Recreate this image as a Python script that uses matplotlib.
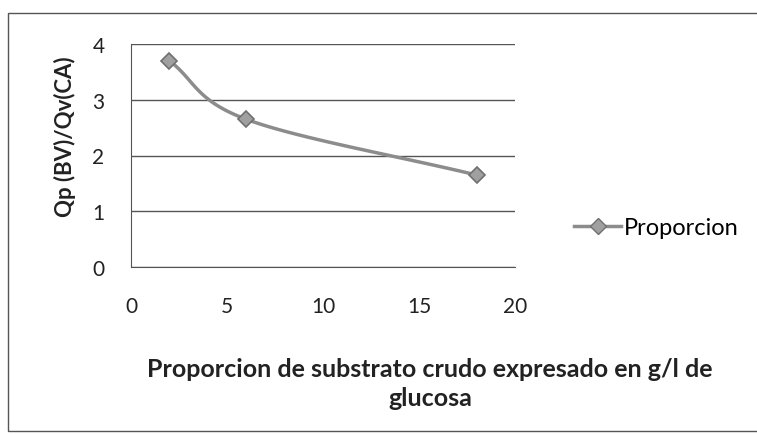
import numpy as np
import matplotlib
matplotlib.use("Agg")
import matplotlib.pyplot as plt
from matplotlib.patches import Rectangle
from matplotlib.lines import Line2D

x_vals = [2, 6, 18]
y_vals = [3.7, 2.65, 1.65]
x_ticks = [0, 5, 10, 15, 20]
y_ticks = [0, 1, 2, 3, 4]
series_name = "Proporcion"
x_label = "Proporcion de substrato crudo expresado en g/l de\nglucosa"
y_label = "Qp (BV)/Qv(CA)"

plt.rcParams['font.family'] = ['Lato', 'DejaVu Sans']

def smooth(xs, ys, n=60):
    # Catmull-Rom style smoothing (Excel "smoothed line" look)
    P = np.column_stack([xs, ys]).astype(float)
    P = np.vstack([P[0] - (P[1] - P[0]), P, P[-1] + (P[-1] - P[-2])])
    out = []
    for i in range(1, len(P) - 2):
        p0, p1, p2, p3 = P[i-1], P[i], P[i+1], P[i+2]
        t = np.linspace(0, 1, n)[:, None]
        seg = 0.5 * ((2*p1) + (-p0 + p2)*t + (2*p0 - 5*p1 + 4*p2 - p3)*t**2
                     + (-p0 + 3*p1 - 3*p2 + p3)*t**3)
        out.append(seg)
    c = np.vstack(out)
    return c[:, 0], c[:, 1]

fig = plt.figure(figsize=(7.57, 4.35), dpi=100)
fig.patches.append(Rectangle((8/757, 1 - 432/435), 1.2, (432-14)/435,
                             transform=fig.transFigure, fill=False,
                             edgecolor='#555555', lw=1.0))

ax = fig.add_axes([131/757, 1 - 268/435, (515-131)/757, (268-45)/435])
ax.set_xlim(0, 20)
ax.set_ylim(0, 4)
ax.set_xticks(x_ticks)
ax.set_yticks(y_ticks)
ax.tick_params(axis='both', length=0, labelsize=15, colors='#222222')
ax.tick_params(axis='x', pad=21)
ax.tick_params(axis='y', pad=19)
ax.yaxis.grid(True, color='#555555', lw=1.0)
ax.set_axisbelow(True)
for s in ['top', 'right']:
    ax.spines[s].set_visible(False)
ax.spines['left'].set_color('#555555')
ax.spines['bottom'].set_color('#555555')

sx, sy = smooth(x_vals, y_vals)
ax.plot(sx, sy, color='#8c8c8c', lw=2.5, solid_capstyle='round')
ax.plot(x_vals, y_vals, linestyle='none', marker='D', markersize=8,
        markerfacecolor='#a0a0a0', markeredgecolor='#707070', markeredgewidth=1.2)

fig.text(430/757, 1 - 384/435, x_label, ha='center', va='center',
         fontsize=18, fontweight='bold', color='#222222', linespacing=1.3)
fig.text(65/757, 1 - 137/435, y_label, ha='center', va='center', rotation=90,
         fontsize=16, fontweight='bold', color='#222222')

handle = Line2D([], [], color='#8c8c8c', lw=2.5, marker='D', markersize=8,
                markerfacecolor='#a0a0a0', markeredgecolor='#707070')
fig.legend([handle], [series_name], loc='center left',
           bbox_to_anchor=(574/757, 1 - 229/435), frameon=False,
           fontsize=17, handlelength=2.0, handletextpad=0.1, borderpad=0,
           borderaxespad=0)

fig.savefig("out.png", dpi=100)
